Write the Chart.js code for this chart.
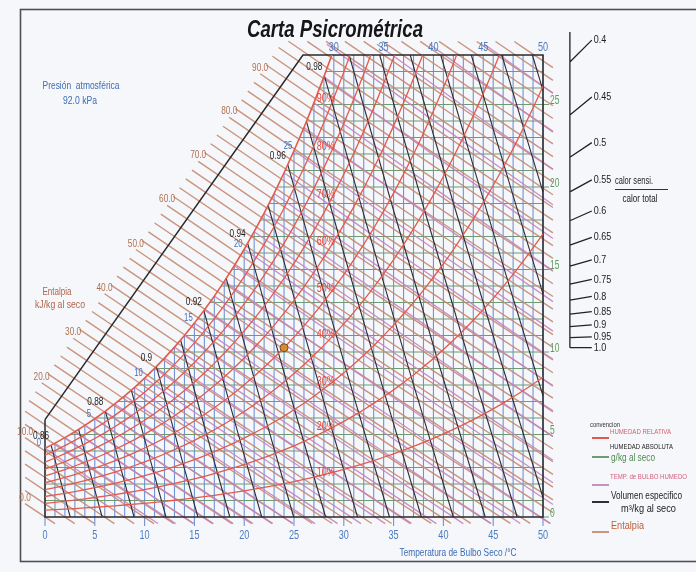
<!DOCTYPE html>
<html lang="es">
<head>
    <meta charset="UTF-8">
    <title>Carta Psicrométrica</title>
    <script src="https://cdn.jsdelivr.net/npm/chart.js@4.4.1/dist/chart.umd.min.js"></script>
    <style>
        html, body {
            margin: 0;
            padding: 0;
            background: #f5f7fb;
        }

        .chart-container {
            position: relative;
            width: 696px;
            height: 572px;
        }
    </style>
</head>
<body>
    <div class="chart-container">
        <canvas id="psychroChart"></canvas>
    </div>

    <script>
        // presión de la carta (kPa)
        const atmPressure = 92.0;

        // temperatura de bulbo seco (°C) y presión de saturación del vapor (kPa)
        const dryBulb = [0, 1, 2, 3, 4, 5, 6, 7, 8, 9, 10, 11, 12, 13, 14, 15, 16, 17, 18, 19, 20, 21, 22, 23, 24, 25,
            26, 27, 28, 29, 30, 31, 32, 33, 34, 35, 36, 37, 38, 39, 40, 41, 42, 43, 44, 45, 46, 47, 48, 49, 50];
        const satPressure = [0.6113, 0.6571, 0.7060, 0.7581, 0.8136, 0.8726, 0.9354, 1.0021, 1.0730, 1.1482,
            1.2282, 1.3130, 1.4028, 1.4981, 1.5990, 1.7058, 1.8188, 1.9384, 2.0647, 2.1983,
            2.3393, 2.4882, 2.6453, 2.8111, 2.9858, 3.1699, 3.3639, 3.5681, 3.7831, 4.0092,
            4.2470, 4.4969, 4.7596, 5.0354, 5.3251, 5.6290, 5.9479, 6.2823, 6.6328, 7.0002,
            7.3849, 7.7878, 8.2096, 8.6508, 9.1124, 9.5950, 10.099, 10.627, 11.177, 11.752, 12.352];

        // familias de líneas
        const rhLevels = [10, 20, 30, 40, 50, 60, 70, 80, 90];
        const humidityLevels = [1, 2, 3, 4, 5, 6, 7, 8, 9, 10, 11, 12, 13, 14, 15, 16, 17, 18, 19, 20, 21, 22, 23, 24, 25, 26, 27];
        const enthalpyLevels = [0, 2, 4, 6, 8, 10, 12, 14, 16, 18, 20, 22, 24, 26, 28, 30, 32, 34, 36, 38, 40, 42, 44, 46, 48,
            50, 52, 54, 56, 58, 60, 62, 64, 66, 68, 70, 72, 74, 76, 78, 80, 82, 84, 86, 88, 90, 92, 94, 96, 98,
            100, 102, 104, 106, 108, 110, 112, 114, 116, 118, 120, 122];
        const wetBulbLevels = [0, 1, 2, 3, 4, 5, 6, 7, 8, 9, 10, 11, 12, 13, 14, 15, 16, 17, 18, 19, 20, 21, 22, 23, 24, 25,
            26, 27, 28, 29, 30, 31, 32];
        const volumeLevels = [0.86, 0.87, 0.88, 0.89, 0.90, 0.91, 0.92, 0.93, 0.94, 0.95, 0.96, 0.97, 0.98, 0.99,
            1.00, 1.01, 1.02, 1.03, 1.04, 1.05];
        const shrLevels = [0.4, 0.45, 0.5, 0.55, 0.6, 0.65, 0.7, 0.75, 0.8, 0.85, 0.9, 0.95, 1.0];

        // etiquetas
        const enthalpyLabels = [0, 10, 20, 30, 40, 50, 60, 70, 80, 90];
        const volumeLabels = [0.86, 0.88, 0.9, 0.92, 0.94, 0.96, 0.98];
        const wetBulbLabels = [0, 5, 10, 15, 20, 25];
        const topLabels = [30, 35, 40, 45, 50];
        const bottomTicks = [0, 5, 10, 15, 20, 25, 30, 35, 40, 45, 50];
        const rightTicks = [0, 5, 10, 15, 20, 25];

        // punto de referencia del factor de calor sensible
        const refPoint = { t: 24, rh: 50 };

        // límites de la carta
        const tMax = 50;
        const wMax = 28;
        const scaleStart = { t: 0, w: 5.9 };
        const scaleEnd = { t: 25.9, w: 28 };
        const shrScaleT = 52.7;
        const shrScaleTop = 29.4;

        const COLORS = {
            red: '#e35a4c',
            blue: '#6f93d6',
            green: '#6d9c74',
            brown: 'rgba(196, 138, 112, 0.9)',
            pink: 'rgba(196, 132, 190, 0.9)',
            black: '#2c2e38'
        };
        const FONT = '"Liberation Sans", Arial, sans-serif';

        function wFromPv(pv) {
            return 622 * pv / (atmPressure - pv);
        }

        const wSat = satPressure.map(wFromPv);

        function wSatAt(t) {
            if (t <= 0) return wSat[0];
            const i = Math.min(Math.floor(t), dryBulb.length - 2);
            const f = t - i;
            return wSat[i] + f * (wSat[i + 1] - wSat[i]);
        }

        function solve(f, a, b) {
            let fa = f(a);
            for (let k = 0; k < 60; k++) {
                const m = (a + b) / 2;
                const fm = f(m);
                if ((fm > 0) === (fa > 0)) { a = m; fa = fm; } else { b = m; }
            }
            return (a + b) / 2;
        }

        function tSatAt(w) {
            return solve(t => wSatAt(t) - w, 0, tMax);
        }

        function leftEdgeT(w) {
            return w <= wSat[0] ? 0 : tSatAt(w);
        }

        function addSegment(list, pts) {
            pts.forEach(p => list.push(p));
            list.push({ x: null, y: null });
        }

        // entalpía
        function enthalpyW(h, t) {
            return 1000 * (h - 1.006 * t) / (2501 + 1.86 * t);
        }

        function diagW(t) {
            return scaleStart.w + (scaleEnd.w - scaleStart.w) * t / scaleEnd.t;
        }

        function enthalpyRange(h) {
            let tLeft;
            if (enthalpyW(h, 0) <= scaleStart.w) tLeft = 0;
            else if (enthalpyW(h, scaleEnd.t) <= wMax) tLeft = solve(t => enthalpyW(h, t) - diagW(t), 0, scaleEnd.t);
            else tLeft = solve(t => enthalpyW(h, t) - wMax, scaleEnd.t, 80);
            const tRight = enthalpyW(h, tMax) >= 0 ? tMax : h / 1.006;
            if (tLeft > tRight) return null;
            return { t1: tLeft - 2.0, t2: tRight + 1.0 };
        }

        // bulbo húmedo
        function wetBulbRange(twb) {
            const ws = wSat[dryBulb.indexOf(twb)];
            const f = t => 1000 * ((2501 - 2.326 * twb) * ws / 1000 - 1.006 * (t - twb)) / (2501 + 1.86 * t - 4.186 * twb);
            let tStart = twb;
            let ext = 0;
            if (ws > wMax) {
                tStart = solve(t => f(t) - wMax, twb, 90);
                ext = 1.5;
            }
            if (tStart >= tMax) return null;
            const tEnd = f(tMax) >= 0 ? tMax : solve(f, tStart, tMax);
            return { f, t1: tStart - ext, t2: tEnd + 1.0 };
        }

        // volumen específico
        function volumeT(v, w) {
            return v * atmPressure / (0.287 * (1 + 1.6078 * w / 1000)) - 273.15;
        }

        function volumeRange(v) {
            const g = w => volumeT(v, w) - leftEdgeT(w);
            const wStart = g(wMax) >= 0 ? wMax : solve(g, 0, wMax);
            const wEnd = volumeT(v, 0) <= tMax ? 0 : solve(w => volumeT(v, w) - tMax, 0, wMax);
            if (wEnd >= wStart) return null;
            return { wStart, wEnd };
        }

        function shrSlope(s) {
            return 1.006 * (1 - s) / (2.501 * s);
        }

        // construir datasets
        const satData = dryBulb.map((t, i) => ({ x: t, y: wSat[i] }));

        const rhData = [];
        rhLevels.forEach(rh => addSegment(rhData, dryBulb.map((t, i) => ({ x: t, y: wFromPv(rh / 100 * satPressure[i]) }))));

        const dryBulbData = [];
        dryBulb.forEach((t, i) => {
            const bottom = bottomTicks.includes(t) ? -0.55 : 0;
            addSegment(dryBulbData, [{ x: t, y: bottom }, { x: t, y: Math.min(wSat[i], wMax) }]);
        });

        const humidityData = [];
        humidityLevels.forEach(w => addSegment(humidityData, [{ x: leftEdgeT(w), y: w }, { x: tMax, y: w }]));
        const humidityTicks = [];
        rightTicks.forEach(w => addSegment(humidityTicks, [{ x: tMax, y: w }, { x: tMax + 0.6, y: w }]));

        const enthalpyEnds = {};
        const enthalpyData = [];
        enthalpyLevels.forEach(h => {
            const r = enthalpyRange(h);
            if (!r) return;
            enthalpyEnds[h] = r;
            const pts = [];
            for (let k = 0; k <= 4; k++) {
                const t = r.t1 + (r.t2 - r.t1) * k / 4;
                pts.push({ x: t, y: enthalpyW(h, t) });
            }
            addSegment(enthalpyData, pts);
        });

        const wetBulbData = [];
        wetBulbLevels.forEach(twb => {
            const r = wetBulbRange(twb);
            if (!r) return;
            const pts = [];
            for (let k = 0; k <= 4; k++) {
                const t = r.t1 + (r.t2 - r.t1) * k / 4;
                pts.push({ x: t, y: r.f(t) });
            }
            addSegment(wetBulbData, pts);
        });

        const volumeStarts = {};
        const volumeData = [];
        volumeLevels.forEach(v => {
            const r = volumeRange(v);
            if (!r) return;
            volumeStarts[v.toFixed(2)] = { t: volumeT(v, r.wStart), w: r.wStart };
            const pts = [];
            for (let k = 0; k <= 3; k++) {
                const w = r.wStart + (r.wEnd - r.wStart) * k / 3;
                pts.push({ x: volumeT(v, w), y: w });
            }
            addSegment(volumeData, pts);
        });

        const boxData = [
            { x: 0, y: scaleStart.w }, { x: 0, y: 0 }, { x: tMax, y: 0 }, { x: tMax, y: wMax },
            { x: scaleEnd.t, y: wMax }, { x: 0, y: scaleStart.w }
        ];

        const refW = wFromPv(refPoint.rh / 100 * satPressure[dryBulb.indexOf(refPoint.t)]);
        const shrData = [];
        addSegment(shrData, [{ x: shrScaleT, y: refW }, { x: shrScaleT, y: shrScaleTop }]);
        const shrEnds = [];
        shrLevels.forEach(s => {
            const m = shrSlope(s);
            const tEnd = shrScaleT + 2.2;
            const end = { x: tEnd, y: refW + m * (tEnd - refPoint.t) };
            shrEnds.push(end);
            addSegment(shrData, [{ x: shrScaleT, y: refW + m * (shrScaleT - refPoint.t) }, end]);
        });

        function drawText(ctx, str, x, y, o) {
            ctx.save();
            ctx.font = (o.style || '') + ' ' + o.size + 'px ' + FONT;
            ctx.fillStyle = o.color;
            ctx.textAlign = o.align || 'center';
            ctx.textBaseline = 'middle';
            const sx = o.width ? o.width / ctx.measureText(str).width : (o.squeeze || 0.8);
            ctx.translate(x, y);
            ctx.scale(sx, 1);
            ctx.fillText(str, 0, 0);
            ctx.restore();
        }

        function drawSample(ctx, x, y, color) {
            ctx.save();
            ctx.strokeStyle = color;
            ctx.lineWidth = 2;
            ctx.beginPath();
            ctx.moveTo(x, y);
            ctx.lineTo(x + 17, y);
            ctx.stroke();
            ctx.restore();
        }

        const chartDecor = {
            id: 'chartDecor',
            beforeDraw(chart) {
                const ctx = chart.ctx;
                ctx.save();
                ctx.fillStyle = '#f5f7fb';
                ctx.fillRect(0, 0, chart.width, chart.height);
                ctx.strokeStyle = '#505050';
                ctx.lineWidth = 1.6;
                ctx.strokeRect(20.5, 9.5, 700, 552);
                ctx.restore();
            },
            afterDraw(chart) {
                const ctx = chart.ctx;
                const X = v => chart.scales.x.getPixelForValue(v);
                const Y = v => chart.scales.y.getPixelForValue(v);

                drawText(ctx, 'Carta Psicrométrica', 335, 31, { size: 23, style: 'italic bold', color: '#161616', width: 176 });
                drawText(ctx, 'Presión  atmosférica', 81, 86, { size: 10, color: '#3c6cb4', width: 77 });
                drawText(ctx, '92.0 kPa', 80, 101, { size: 10, color: '#3c6cb4', width: 34 });
                drawText(ctx, 'Entalpia', 57, 292, { size: 10, color: '#b0654a', width: 29 });
                drawText(ctx, 'kJ/kg al seco', 60, 305, { size: 10, color: '#b0654a', width: 50 });

                // entalpía
                enthalpyLabels.forEach(h => {
                    const r = enthalpyEnds[h];
                    drawText(ctx, h.toFixed(1), X(r.t1), Y(enthalpyW(h, r.t1)) - 6, { size: 11, color: '#b0704f', squeeze: 0.75 });
                });

                // volumen específico
                volumeLabels.forEach(v => {
                    const p = volumeStarts[v.toFixed(2)];
                    drawText(ctx, String(v), X(p.t) - 10, Y(p.w) - 9, { size: 11, color: '#1e1e1e', squeeze: 0.75 });
                });

                // bulbo húmedo sobre la curva de saturación
                wetBulbLabels.forEach(t => {
                    drawText(ctx, String(t), X(t) - 6, Y(wSat[dryBulb.indexOf(t)]) - 5, { size: 11, color: '#3d6fc0', squeeze: 0.7 });
                });

                // humedad relativa
                rhLevels.forEach(rh => {
                    const w = wFromPv(rh / 100 * satPressure[dryBulb.indexOf(29)]);
                    drawText(ctx, rh + '%', X(29) - 8, Y(w), { size: 12.5, color: '#e8473c', squeeze: 0.72 });
                });

                // ejes
                bottomTicks.forEach(t => {
                    drawText(ctx, String(t), X(t), Y(0) + 18, { size: 13, color: '#4a7cc2', squeeze: 0.7 });
                });
                topLabels.forEach(t => {
                    drawText(ctx, String(t), t === tMax ? X(t) : X(t) - 10, Y(wMax) - 8, { size: 13, color: '#4a7cc2', squeeze: 0.7 });
                });
                rightTicks.forEach(w => {
                    drawText(ctx, String(w), X(tMax) + 7, Y(w) - 4, { size: 13, color: '#5f9a5c', squeeze: 0.65, align: 'left' });
                });
                drawText(ctx, 'Temperatura de Bulbo Seco /°C', 458, 553, { size: 11, color: '#3c6cb4', width: 117 });

                // factor de calor sensible
                shrLevels.forEach((s, i) => {
                    const e = shrEnds[i];
                    drawText(ctx, String(s === 1 ? '1.0' : s), X(e.x) + 2, Y(e.y), { size: 11.5, color: '#222', squeeze: 0.78, align: 'left' });
                });
                drawText(ctx, 'calor sensi.', 634, 181, { size: 10, color: '#222', width: 38 });
                ctx.save();
                ctx.strokeStyle = '#333';
                ctx.lineWidth = 1;
                ctx.beginPath();
                ctx.moveTo(615, 189.5);
                ctx.lineTo(668, 189.5);
                ctx.stroke();
                ctx.restore();
                drawText(ctx, 'calor total', 640, 199, { size: 10, color: '#222', width: 35 });

                // convención
                drawText(ctx, 'convencion', 605, 425, { size: 7, color: '#333', width: 30 });
                drawText(ctx, 'HUMEDAD RELATIVA', 610, 432, { size: 7, color: '#d8606a', width: 61, align: 'left' });
                drawSample(ctx, 592, 438, COLORS.red);
                drawText(ctx, 'HUMEDAD ABSOLUTA', 610, 447, { size: 7, color: '#222', width: 63, align: 'left' });
                drawSample(ctx, 592, 457, COLORS.green);
                drawText(ctx, 'g/kg al seco', 611, 458, { size: 11, color: '#4e8a4e', width: 44, align: 'left' });
                drawText(ctx, 'TEMP. de BULBO HUMEDO', 610, 477, { size: 7, color: '#d0607a', width: 77, align: 'left' });
                drawSample(ctx, 592, 485, COLORS.pink);
                drawText(ctx, 'Volumen especifico', 611, 496, { size: 11, color: '#222', width: 71, align: 'left' });
                drawSample(ctx, 592, 502, COLORS.black);
                drawText(ctx, 'm³/kg al seco', 621, 509, { size: 10, color: '#222', width: 55, align: 'left' });
                drawText(ctx, 'Entalpia', 611, 526, { size: 11, color: '#c0603a', width: 33, align: 'left' });
                drawSample(ctx, 592, 532, COLORS.brown);
            }
        };

        const lineSet = (label, data, color, width, clip) => ({
            label, data,
            showLine: true, spanGaps: false, tension: 0,
            borderColor: color, borderWidth: width,
            pointRadius: 0, clip
        });

        new Chart(document.getElementById('psychroChart'), {
            type: 'scatter',
            data: {
                datasets: [
                    {
                        label: 'punto de referencia',
                        data: [{ x: refPoint.t, y: refW }],
                        pointRadius: 4,
                        pointBackgroundColor: '#d98c2c',
                        pointBorderColor: '#7a4a1e',
                        pointBorderWidth: 1,
                        clip: false
                    },
                    lineSet('saturación', satData, COLORS.red, 1.6, 0),
                    lineSet('humedad relativa', rhData, COLORS.red, 1.3, 0),
                    lineSet('marco', boxData, '#2a2a2a', 1.5, false),
                    lineSet('volumen específico', volumeData, COLORS.black, 1.1, false),
                    lineSet('bulbo húmedo', wetBulbData, COLORS.pink, 1.3, false),
                    lineSet('entalpía', enthalpyData, COLORS.brown, 1.4, false),
                    lineSet('humedad absoluta', humidityData, COLORS.green, 1.1, false),
                    lineSet('marcas humedad', humidityTicks, COLORS.green, 1.2, false),
                    lineSet('bulbo seco', dryBulbData, COLORS.blue, 1.1, false),
                    lineSet('calor sensible', shrData, '#222', 1.3, false)
                ]
            },
            options: {
                responsive: true,
                maintainAspectRatio: false,
                animation: false,
                events: [],
                layout: { padding: { left: 45, right: 153, top: 55, bottom: 55 } },
                scales: {
                    x: { type: 'linear', min: 0, max: tMax, display: false },
                    y: { type: 'linear', min: 0, max: wMax, display: false }
                },
                plugins: {
                    legend: { display: false },
                    tooltip: { enabled: false }
                }
            },
            plugins: [chartDecor]
        });
    </script>
</body>
</html>
